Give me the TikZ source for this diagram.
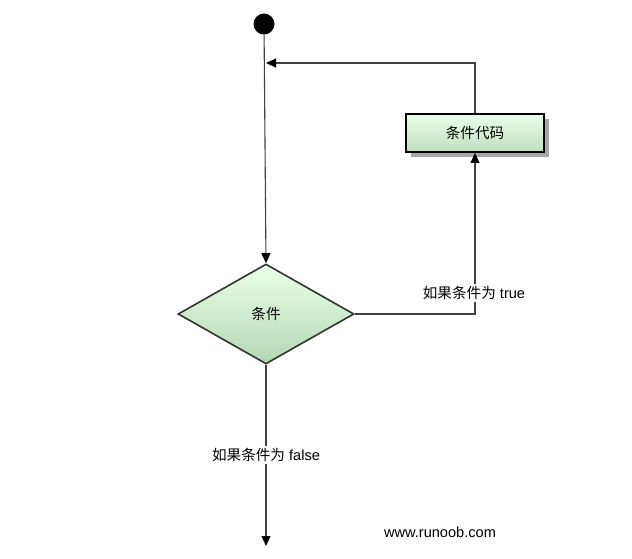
\documentclass[tikz,border=0pt]{standalone}
\usepackage{fontspec}
\setmainfont{Liberation Sans}
\newfontfamily\cjk{Noto Sans CJK SC}
\usetikzlibrary{shapes.geometric,arrows.meta,shadows}
\tikzset{
    flowline/.style={draw=black!75, line width=1.1pt},
    flowarrow/.style={flowline, -{Triangle[length=10pt,width=9pt,fill=black,color=black]}},
    codebox/.style={rectangle, draw=black, line width=2pt, minimum width=138pt, minimum height=38pt,
            top color=green!8!white, bottom color=green!50!black!25!white,
            drop shadow={shadow xshift=5pt, shadow yshift=-5pt, fill=black!35, opacity=1}},
    decision/.style={diamond, draw=black!80, line width=1.6pt, inner sep=0pt, aspect=1.76,
            minimum width=176pt, minimum height=100pt,
            top color=green!8!white, bottom color=green!50!black!30!white},
    lbl/.style={fill=white, inner sep=2pt, font=\fontsize{14.6}{17}\selectfont},
}

\begin{document}
\begin{tikzpicture}[x=1pt, y=-1pt, font=\fontsize{14.6}{17}\selectfont]
        \useasboundingbox (0, 0) rectangle (632, 559);
        %start point and nodes
        \node[circle, fill=black, minimum size=21pt, inner sep=0pt] (start) at (264, 24) {};
        \node[codebox] (code) at (475, 133) {\cjk 条件代码};
        \node[decision] (cond) at (266, 314) {\cjk 条件};
        \coordinate (merge) at (266, 63);
        \coordinate (exit) at (266, 546);
        %draw connectors
        \draw[flowarrow] (start) -- (cond.north);
        \draw[flowarrow] (code.north) |- (merge);
        \draw[flowarrow] (cond.east) -| (code.south);
        \draw[flowarrow] (cond.south) -- (exit);
        %label branches
        \node[lbl] (truelbl) at (474, 293) {{\cjk 如果条件为} true};
        \node[lbl] (falselbl) at (266, 455) {{\cjk 如果条件为} false};
        \node[lbl] (site) at (440, 532) {www.runoob.com};
    \end{tikzpicture}
\end{document}
